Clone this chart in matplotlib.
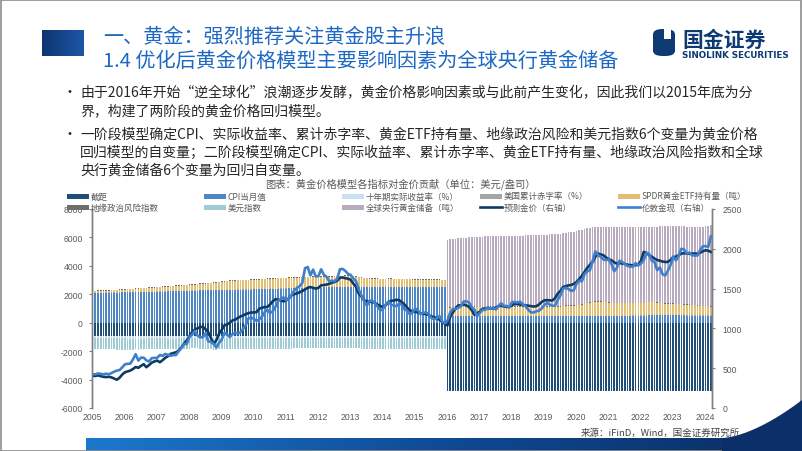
import numpy as np
import matplotlib
matplotlib.use('Agg')
import matplotlib.pyplot as plt
from matplotlib.patches import Rectangle, FancyBboxPatch, Polygon
from matplotlib.lines import Line2D
from matplotlib.colors import LinearSegmentedColormap

plt.rcParams['font.family'] = ['Noto Sans CJK SC', 'DejaVu Sans']

# ---------------- data (monthly, 2005-01 .. 2024-03) ----------------
start_year = 2005
n_phase1 = 132
n_phase2 = 99

gold_spot = [
    424, 423, 434, 429, 422, 431, 424, 438, 456, 470, 476, 510,
    549, 555, 557, 610, 676, 596, 633, 632, 598, 585, 627, 629,
    631, 665, 655, 679, 667, 655, 665, 665, 712, 754, 806, 803,
    889, 922, 968, 909, 888, 889, 939, 839, 829, 807, 760, 816,
    858, 943, 924, 890, 928, 946, 934, 949, 996, 1043, 1127, 1135,
    1118, 1095, 1114, 1149, 1205, 1233, 1193, 1215, 1271, 1343, 1370, 1391,
    1356, 1372, 1424, 1474, 1510, 1529, 1572, 1756, 1772, 1666, 1739, 1652,
    1656, 1743, 1675, 1649, 1591, 1598, 1594, 1626, 1744, 1747, 1722, 1685,
    1671, 1627, 1593, 1487, 1414, 1343, 1286, 1347, 1349, 1316, 1275, 1225,
    1244, 1300, 1336, 1299, 1288, 1279, 1311, 1296, 1239, 1222, 1176, 1201,
    1251, 1227, 1179, 1198, 1199, 1182, 1131, 1117, 1125, 1156, 1086, 1068,
    1097, 1200, 1246, 1242, 1260, 1276, 1337, 1341, 1326, 1267, 1236, 1152,
    1192, 1234, 1231, 1266, 1246, 1260, 1236, 1283, 1315, 1280, 1283, 1265,
    1331, 1331, 1325, 1335, 1303, 1282, 1238, 1202, 1199, 1215, 1221, 1250,
    1292, 1320, 1300, 1285, 1284, 1359, 1413, 1500, 1510, 1495, 1471, 1480,
    1560, 1597, 1592, 1683, 1716, 1732, 1847, 1968, 1922, 1900, 1866, 1858,
    1867, 1808, 1718, 1760, 1850, 1834, 1807, 1785, 1776, 1777, 1821, 1790,
    1817, 1856, 1948, 1937, 1849, 1836, 1733, 1765, 1681, 1665, 1726, 1797,
    1898, 1855, 1912, 2000, 1992, 1943, 1952, 1918, 1916, 1916, 1985, 2031,
    2034, 2024, 2159]

gold_pred = [
    405, 402, 410, 400, 392, 388, 392, 385, 370, 355, 380, 420,
    449, 460, 470, 490, 515, 505, 530, 550, 512, 540, 570, 585,
    596, 575, 600, 630, 650, 680, 690, 700, 722, 760, 810, 848,
    900, 953, 985, 1000, 1016, 1020, 990, 953, 880, 806, 850, 932,
    980, 1037, 1050, 1070, 1100, 1110, 1130, 1150, 1163, 1180, 1192, 1200,
    1200, 1205, 1247, 1260, 1268, 1270, 1300, 1340, 1367, 1360, 1352, 1340,
    1352, 1380, 1414, 1430, 1440, 1453, 1470, 1490, 1510, 1520, 1510, 1500,
    1510, 1541, 1545, 1550, 1560, 1575, 1583, 1600, 1637, 1640, 1630, 1625,
    1610, 1562, 1520, 1436, 1400, 1352, 1340, 1335, 1331, 1320, 1300, 1280,
    1268, 1290, 1331, 1345, 1350, 1360, 1355, 1331, 1300, 1260, 1226, 1215,
    1210, 1200, 1190, 1184, 1180, 1170, 1150, 1142, 1130, 1110, 1080, 1058,
    1037, 1142, 1200, 1250, 1289, 1289, 1300, 1289, 1270, 1230, 1171, 1190,
    1210, 1247, 1250, 1255, 1247, 1250, 1260, 1281, 1285, 1275, 1270, 1268,
    1290, 1310, 1305, 1300, 1295, 1289, 1285, 1281, 1275, 1278, 1300, 1330,
    1352, 1355, 1352, 1350, 1380, 1436, 1470, 1520, 1530, 1541, 1545, 1560,
    1583, 1620, 1660, 1709, 1760, 1800, 1835, 1900, 1940, 1930, 1919, 1890,
    1870, 1856, 1830, 1814, 1820, 1815, 1810, 1800, 1795, 1793, 1795, 1800,
    1850, 1961, 1950, 1919, 1900, 1877, 1860, 1850, 1840, 1835, 1835, 1860,
    1898, 1900, 1920, 1940, 1945, 1940, 1938, 1940, 1940, 1940, 1950, 1970,
    1982, 1975, 1961]

intercept = [-950] * n_phase1 + [-4790] * n_phase2

cpi = [
    2090, 2095, 2100, 2100, 2105, 2110, 2110, 2115, 2120, 2120, 2125, 2130,
    2135, 2140, 2140, 2145, 2150, 2155, 2160, 2160, 2165, 2170, 2170, 2175,
    2180, 2185, 2190, 2195, 2200, 2205, 2210, 2215, 2220, 2225, 2230, 2240,
    2245, 2250, 2255, 2260, 2270, 2275, 2280, 2285, 2290, 2295, 2295, 2300,
    2300, 2305, 2305, 2310, 2310, 2315, 2320, 2320, 2325, 2330, 2330, 2335,
    2340, 2345, 2350, 2355, 2360, 2365, 2370, 2375, 2380, 2385, 2390, 2395,
    2400, 2410, 2420, 2425, 2430, 2440, 2445, 2450, 2455, 2460, 2465, 2470,
    2470, 2475, 2480, 2480, 2485, 2485, 2490, 2490, 2490, 2495, 2495, 2495,
    2495, 2495, 2500, 2500, 2500, 2495, 2495, 2495, 2490, 2490, 2490, 2490,
    2490, 2490, 2495, 2495, 2495, 2500, 2500, 2500, 2500, 2500, 2495, 2495,
    2495, 2495, 2495, 2490, 2490, 2490, 2490, 2490, 2485, 2485, 2485, 2485,
    440, 440, 445, 445, 450, 450, 450, 455, 455, 455, 460, 460,
    460, 460, 460, 465, 465, 465, 465, 465, 470, 470, 470, 470,
    470, 470, 470, 470, 475, 475, 475, 475, 475, 475, 475, 475,
    475, 475, 475, 475, 475, 475, 470, 470, 470, 470, 470, 470,
    470, 470, 470, 465, 460, 460, 460, 460, 460, 460, 460, 460,
    460, 460, 465, 470, 475, 480, 480, 485, 485, 490, 490, 495,
    500, 500, 505, 510, 510, 515, 515, 520, 520, 520, 520, 520,
    520, 515, 515, 510, 510, 505, 505, 500, 500, 500, 500, 500,
    500, 500, 500]

real_yield = [
    -150, -150, -155, -155, -150, -150, -150, -155, -155, -160, -160, -160,
    -160, -165, -165, -170, -170, -170, -165, -165, -160, -160, -160, -160,
    -160, -160, -160, -160, -165, -170, -170, -165, -160, -155, -155, -150,
    -145, -140, -135, -140, -145, -150, -150, -150, -170, -175, -170, -160,
    -160, -155, -155, -150, -150, -155, -155, -150, -150, -150, -150, -150,
    -155, -155, -155, -155, -150, -145, -140, -135, -135, -135, -135, -140,
    -145, -145, -145, -140, -135, -135, -130, -120, -115, -115, -110, -110,
    -105, -105, -105, -105, -100, -100, -95, -95, -95, -95, -95, -100,
    -100, -105, -105, -105, -115, -130, -140, -145, -145, -140, -140, -145,
    -145, -140, -140, -140, -135, -135, -135, -135, -140, -140, -140, -140,
    -140, -135, -135, -135, -140, -145, -145, -145, -145, -145, -145, -150,
] + [0] * n_phase2

deficit = [20] * n_phase1 + [20] * n_phase2

etf = [
    100, 105, 110, 115, 120, 125, 130, 135, 140, 150, 155, 160,
    170, 180, 190, 200, 210, 220, 230, 240, 250, 260, 270, 280,
    290, 300, 305, 310, 320, 330, 340, 345, 350, 360, 370, 380,
    390, 400, 410, 420, 430, 440, 450, 460, 470, 480, 500, 520,
    540, 560, 600, 620, 620, 625, 630, 635, 640, 645, 650, 655,
    660, 665, 670, 680, 690, 700, 700, 705, 710, 715, 720, 720,
    720, 715, 715, 710, 710, 715, 720, 720, 725, 730, 730, 735,
    735, 740, 740, 745, 745, 745, 750, 755, 760, 765, 770, 770,
    760, 740, 720, 680, 650, 620, 600, 590, 585, 580, 570, 560,
    555, 555, 560, 560, 555, 550, 550, 550, 545, 540, 530, 525,
    525, 525, 520, 520, 515, 515, 510, 505, 500, 500, 495, 490,
    560, 600, 640, 650, 660, 680, 690, 690, 690, 685, 650, 620,
    620, 625, 630, 635, 635, 635, 630, 630, 635, 640, 640, 640,
    640, 640, 640, 635, 630, 625, 615, 605, 600, 600, 605, 610,
    615, 620, 620, 615, 615, 630, 650, 690, 710, 720, 720, 720,
    740, 760, 780, 830, 880, 920, 960, 990, 990, 985, 970, 950,
    930, 900, 880, 880, 880, 880, 880, 870, 860, 860, 860, 860,
    860, 870, 900, 910, 900, 890, 870, 850, 830, 810, 800, 800,
    790, 780, 770, 760, 750, 740, 730, 720, 700, 680, 660, 650,
    640, 625, 610]

geo_risk = [40] * n_phase1 + [30] * n_phase2

usd_index = [
    -760, -755, -760, -765, -770, -775, -780, -775, -770, -775, -780, -780,
    -775, -780, -775, -770, -760, -765, -760, -760, -765, -765, -760, -755,
    -760, -760, -755, -750, -750, -750, -745, -745, -740, -735, -730, -730,
    -725, -720, -715, -715, -720, -720, -720, -735, -745, -760, -765, -760,
    -765, -770, -770, -765, -755, -750, -745, -740, -735, -730, -730, -735,
    -740, -745, -745, -745, -755, -760, -750, -740, -735, -730, -730, -735,
    -730, -725, -720, -715, -715, -720, -715, -715, -725, -730, -735, -740,
    -740, -735, -740, -740, -750, -755, -755, -750, -745, -745, -745, -745,
    -745, -750, -755, -755, -760, -755, -760, -755, -750, -745, -745, -750,
    -750, -745, -745, -745, -745, -750, -750, -755, -765, -770, -775, -780,
    -780, -780, -780, -775, -775, -775, -780, -780, -775, -775, -780, -780,
] + [0] * n_phase2

cb_reserves = [0] * n_phase1 + [
    4800, 4780, 4760, 4770, 4780, 4770, 4770, 4780, 4800, 4820, 4870, 4900,
    4930, 4930, 4930, 4930, 4935, 4940, 4950, 4950, 4950, 4950, 4960, 4960,
    4960, 4965, 4970, 4975, 4980, 4990, 5000, 5010, 5020, 5030, 5040, 5040,
    5050, 5060, 5070, 5080, 5090, 5090, 5100, 5090, 5100, 5110, 5140, 5170,
    5180, 5210, 5240, 5240, 5250, 5260, 5250, 5240, 5240, 5250, 5270, 5280,
    5300, 5320, 5340, 5330, 5320, 5320, 5320, 5330, 5340, 5340, 5350, 5350,
    5350, 5340, 5300, 5290, 5300, 5310, 5330, 5350, 5370, 5390, 5400, 5410,
    5420, 5430, 5440, 5450, 5460, 5470, 5480, 5490, 5500, 5510, 5530, 5550,
    5600, 5640, 5680]

year_ticks = list(range(2005, 2025))
left_ticks = [-6000, -4000, -2000, 0, 2000, 4000, 6000, 8000]
right_ticks = [0, 500, 1000, 1500, 2000, 2500]

# ---------------- styling ----------------
C_INT = '#1F4E79'
C_CPI = '#4F86C6'
C_RY = '#C9E0F2'
C_DEF = '#A5A5A5'
C_ETF = '#E0BE74'
C_GEO = '#6E6E6E'
C_USD = '#9FCBD4'
C_RES = '#B8AABF'
C_PRED = '#0F3B63'
C_GOLD = '#3F80CC'
TXT = '#262626'
GRAY = '#595959'

W, H = 802, 452
fig = plt.figure(figsize=(W / 100, H / 100), dpi=100)


def fx(x):
    return x / W


def fy(y):
    return 1 - y / H


# slide frame
fig.add_artist(Rectangle((0.0008, 0.001), 0.9985, 0.997, transform=fig.transFigure,
                         fill=False, edgecolor='#8C8C8C', lw=1.2))

# title block (gradient square)
sq = fig.add_axes([fx(42), fy(57), fx(42), (57 - 31) / H])
sq.imshow(np.linspace(0, 1, 64).reshape(1, -1), aspect='auto',
          cmap=LinearSegmentedColormap.from_list('sq', ['#0E3470', '#1D57A6']), extent=[0, 1, 0, 1])
sq.set_axis_off()
fig.text(fx(103), fy(37), '一、黄金：强烈推荐关注黄金股主升浪', fontsize=14.5,
         color='#1C68C4', va='center', ha='left')
fig.text(fx(103), fy(61), '1.4 优化后黄金价格模型主要影响因素为全球央行黄金储备', fontsize=14.5,
         color='#1C68C4', va='center', ha='left')

# logo
fig.add_artist(FancyBboxPatch((fx(653), fy(57)), fx(22), (57 - 30) / H,
                              boxstyle='round,pad=0,rounding_size=0.012',
                              transform=fig.transFigure, facecolor='#0E3A73', edgecolor='none'))
fig.add_artist(Rectangle((fx(664), fy(40)), fx(7), 10 / H, transform=fig.transFigure,
                         facecolor='white', edgecolor='none'))
fig.text(fx(682), fy(40), '国金证券', fontsize=15, fontweight='bold', color='#0E3A73',
         va='center', ha='left')
fig.text(fx(682), fy(55), 'SINOLINK SECURITIES', fontsize=6.3, fontweight='bold',
         color='#0E3A73', va='center', ha='left', family=['DejaVu Sans'])

# bullet text
bullet_lines = [
    (93, True, '由于2016年开始“逆全球化”浪潮逐步发酵，黄金价格影响因素或与此前产生变化，因此我们以2015年底为分'),
    (112, False, '界，构建了两阶段的黄金价格回归模型。'),
    (135, True, '一阶段模型确定CPI、实际收益率、累计赤字率、黄金ETF持有量、地缘政治风险和美元指数6个变量为黄金价格'),
    (153, False, '回归模型的自变量；二阶段模型确定CPI、实际收益率、累计赤字率、黄金ETF持有量、地缘政治风险指数和全球'),
    (171, False, '央行黄金储备6个变量为回归自变量。'),
]
for y, bullet, txt in bullet_lines:
    if bullet:
        fig.text(fx(63), fy(y), '•', fontsize=10, color=TXT, va='center', ha='left')
    fig.text(fx(80), fy(y), txt, fontsize=10, color=TXT, va='center', ha='left')

fig.text(fx(400), fy(184), '图表：黄金价格模型各指标对金价贡献（单位：美元/盎司）', fontsize=7.4,
         color=GRAY, va='center', ha='center')

# ---------------- chart ----------------
ax = fig.add_axes([fx(92), fy(409), fx(712 - 92), (409 - 210) / H])
ax2 = ax.twinx()

n = len(gold_spot)
x = start_year + np.arange(n) / 12.0 + 0.02
bar_w = 0.052

series = [
    ('截距', intercept, C_INT),
    ('CPI当月值', cpi, C_CPI),
    ('十年期实际收益率（%）', real_yield, C_RY),
    ('美国累计赤字率（%）', deficit, C_DEF),
    ('SPDR黄金ETF持有量（吨）', etf, C_ETF),
    ('地缘政治风险指数', geo_risk, C_GEO),
    ('美元指数', usd_index, C_USD),
    ('全球央行黄金储备（吨）', cb_reserves, C_RES),
]
pos_base = np.zeros(n)
neg_base = np.zeros(n)
for name, vals, col in series:
    v = np.asarray(vals, dtype=float)
    bottom = np.where(v >= 0, pos_base, neg_base)
    ax.bar(x, v, width=bar_w, bottom=bottom, color=col, linewidth=0, align='center')
    pos_base += np.clip(v, 0, None)
    neg_base += np.clip(v, None, 0)

ax2.plot(x, gold_pred, color=C_PRED, lw=1.9, solid_joinstyle='round')
ax2.plot(x, gold_spot, color=C_GOLD, lw=1.9, solid_joinstyle='round')

ax.set_xlim(2005, 2024.22)
ax.set_ylim(-6000, 8000)
ax2.set_ylim(0, 2500)
ax.set_yticks(left_ticks)
ax.set_yticklabels([str(t) for t in left_ticks])
ax2.set_yticks(right_ticks)
ax2.set_yticklabels([str(t) for t in right_ticks])
ax.set_xticks(year_ticks)
ax.set_xticklabels([str(t) for t in year_ticks])

for a in (ax, ax2):
    a.set_facecolor('none')
    a.spines['top'].set_visible(False)
    a.spines['bottom'].set_visible(False)
    a.spines['left'].set_color('#7F7F7F')
    a.spines['right'].set_color('#7F7F7F')
    a.spines['left'].set_linewidth(1.0)
    a.spines['right'].set_linewidth(1.0)
ax.tick_params(axis='x', length=0, pad=3, labelsize=6.2, labelcolor=GRAY)
ax.tick_params(axis='y', length=2.5, width=0.8, color='#7F7F7F', pad=4,
               labelsize=6.2, labelcolor=GRAY, direction='out')
ax2.tick_params(axis='y', length=2.5, width=0.8, color='#7F7F7F', pad=5,
                labelsize=6.2, labelcolor=GRAY, direction='out')
for lab in ax.get_xticklabels() + ax.get_yticklabels() + ax2.get_yticklabels():
    lab.set_family(['Liberation Sans', 'DejaVu Sans'])

# ---------------- legend (manual, two rows) ----------------
col_x = [67, 204, 342, 480, 618]
rows_y = [197, 208]
legend_items = [
    [('截距', 'patch', C_INT), ('CPI当月值', 'patch', C_CPI), ('十年期实际收益率（%）', 'patch', C_RY),
     ('美国累计赤字率（%）', 'patch', C_DEF), ('SPDR黄金ETF持有量（吨）', 'patch', C_ETF)],
    [('地缘政治风险指数', 'patch', C_GEO), ('美元指数', 'patch', C_USD), ('全球央行黄金储备（吨）', 'patch', C_RES),
     ('预测金价（右轴）', 'line', C_PRED), ('伦敦金现（右轴）', 'line', C_GOLD)],
]
for r, row in enumerate(legend_items):
    yy = rows_y[r]
    for c, (lab, kind, col) in enumerate(row):
        x0 = col_x[c]
        if kind == 'patch':
            fig.add_artist(Rectangle((fx(x0), fy(yy + 2.5)), fx(22), 5 / H,
                                     transform=fig.transFigure, facecolor=col, edgecolor='none'))
        else:
            fig.add_artist(Line2D([fx(x0), fx(x0 + 22)], [fy(yy), fy(yy)],
                                  transform=fig.transFigure, color=col, lw=1.9))
        fig.text(fx(x0 + 24), fy(yy), lab, fontsize=6.1, color=GRAY, va='center', ha='left')

# source
fig.text(fx(740), fy(433), '来源：iFinD，Wind，国金证券研究所', fontsize=6.8, color='#404040',
         va='center', ha='right')

# bottom band with gradient
band = fig.add_axes([fx(86), 0, fx(802 - 86), (452 - 439) / H])
grad = np.linspace(0, 1, 256).reshape(1, -1)
cmap = LinearSegmentedColormap.from_list('band', ['#1C78CC', '#0F4A94', '#0A2C62'])
band.imshow(grad, aspect='auto', cmap=cmap, extent=[0, 1, 0, 1])
band.set_axis_off()

# right-bottom swoosh
xs = np.linspace(722, 802, 60)
ys = 439 - 38 * ((xs - 722) / 80.0) ** 1.6
pts = [(fx(a), fy(b)) for a, b in zip(xs, ys)] + [(fx(802), fy(452)), (fx(722), fy(452))]
fig.add_artist(Polygon(pts, closed=True, transform=fig.transFigure,
                       facecolor='#0B2F68', edgecolor='none'))

fig.savefig('out.png', dpi=100)
